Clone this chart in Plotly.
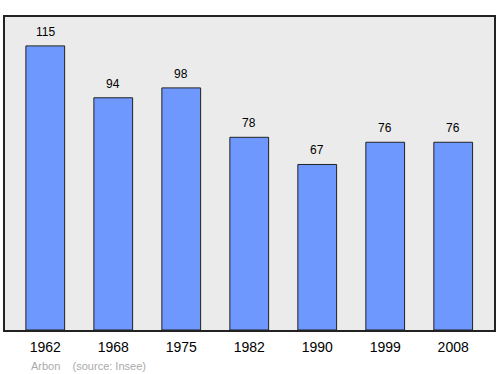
import plotly.graph_objects as go

years = ["1962", "1968", "1975", "1982", "1990", "1999", "2008"]
population = [115, 94, 98, 78, 67, 76, 76]

xpos = list(range(len(years)))
FONT = "Liberation Sans, Arial, sans-serif"

fig = go.Figure()
fig.add_trace(go.Bar(
    x=xpos, y=population, width=0.57,
    marker=dict(color="#6f98ff", line=dict(color="#222222", width=1)),
    hoverinfo="skip",
))
annotations = [dict(x=x, y=v, text=str(v), xref="x", yref="y", showarrow=False,
                    yanchor="bottom", yshift=5,
                    font=dict(family=FONT, size=12, color="#000000"))
               for x, v in zip(xpos, population)]
annotations.append(dict(text="Arbon&nbsp;&nbsp;&nbsp;&nbsp;(source: Insee)", xref="paper", yref="paper",
                        x=0.05, y=-0.115, xanchor="left", yanchor="middle", showarrow=False,
                        font=dict(family=FONT, size=11, color="#aaaaaa")))
fig.update_layout(
    width=500, height=374,
    margin=dict(l=5, r=4, t=17, b=44),
    paper_bgcolor="#ffffff", plot_bgcolor="#ebebeb",
    showlegend=False,
    xaxis=dict(range=[-0.592, 6.6], tickmode="array", tickvals=xpos, ticktext=years,
               showgrid=False, zeroline=False, showline=True, linecolor="#222222", linewidth=1.5,
               mirror=True, ticks="", ticklabelstandoff=3,
               tickfont=dict(family=FONT, size=14, color="#000000")),
    yaxis=dict(range=[0, 126.7], showgrid=False, zeroline=False, showticklabels=False,
               showline=True, linecolor="#222222", linewidth=1.5, mirror=True, ticks=""),
    annotations=annotations,
)
fig.write_html("out.html")
